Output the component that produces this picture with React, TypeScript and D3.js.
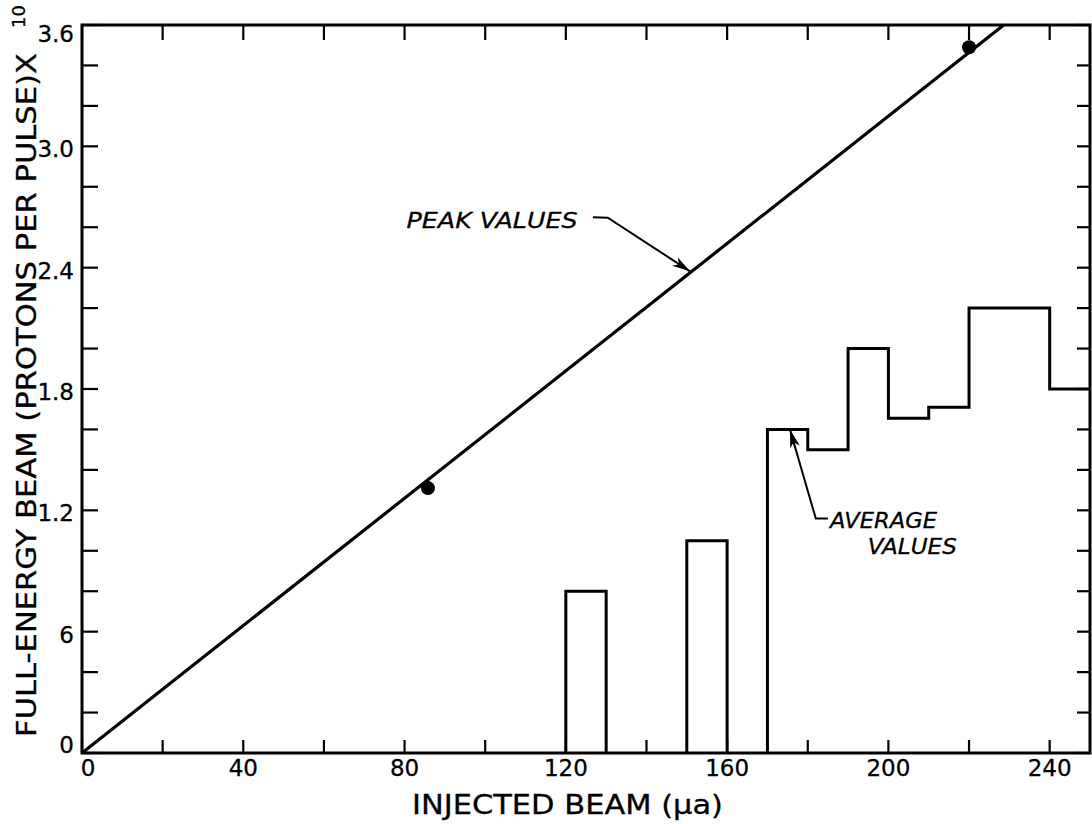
import * as d3 from 'd3';

// axis ticks and labels
const xMinorTicks = d3.range(0, 241, 20);
const xLabelValues = [0, 40, 80, 120, 160, 200, 240];
const yTickValues = d3.range(0, 19).map(i => +(i * 0.2).toFixed(1));
const yLabelValues = [0, 0.6, 1.2, 1.8, 2.4, 3.0, 3.6];
const yLabelText = ['0', '6', '1.2', '1.8', '2.4', '3.0', '3.6'];

// peak values: fitted line and two measured points
const peakLineX = [0, 228.6];
const peakLineY = [0, 3.6];
const peakPointX = [85.8, 220];
const peakPointY = [1.31, 3.49];

// average values (histogram bins)
const avgStart = [120, 150, 170, 180, 190, 200, 210, 220, 240];
const avgEnd = [130, 160, 180, 190, 200, 210, 220, 240, 250];
const avgValue = [0.8, 1.05, 1.6, 1.5, 2.0, 1.655, 1.71, 2.2, 1.8];

// annotation anchors in data units
const peakLeader = [[126.7, 2.649], [130.4, 2.647], [150.8, 2.382]];
const peakText = [80.5, 2.598];
const avgLeader = [[185.0, 1.159], [182.0, 1.159], [175.6, 1.599]];
const avgText1 = [185.5, 1.114];
const avgText2 = [194.9, 0.986];

const W = 1092, H = 824;
const margin = { top: 25, right: 2, bottom: 71, left: 82 };
const FONT = '"DejaVu Sans", Verdana, sans-serif';

export default function App() {
  const x = d3.scaleLinear().domain([0, 250]).range([margin.left, W - margin.right]);
  const y = d3.scaleLinear().domain([0, 3.6]).range([H - margin.bottom, margin.top]);
  const x0 = x(0), x1 = x(250), y0 = y(0), y1 = y(3.6);

  const line = d3.line<number[]>().x(d => x(d[0])).y(d => y(d[1]));
  const peakPts = peakLineX.map((v, i) => [v, peakLineY[i]]);

  // histogram outline
  const p = d3.path();
  avgStart.forEach((s, i) => {
    const e = avgEnd[i], v = avgValue[i];
    const joined = i > 0 && avgEnd[i - 1] === s;
    if (!joined) p.moveTo(x(s), y(0));
    p.lineTo(x(s), y(v));
    p.lineTo(x(e), y(v));
    const nextJoined = i < avgStart.length - 1 && avgStart[i + 1] === e;
    if (!nextJoined && e < 250) p.lineTo(x(e), y(0));
  });

  const yLabelShift = (v: number) => (v === 0 ? -8 : v === 3.6 ? 9 : 3);
  const ink = { fill: '#000', stroke: '#000', strokeWidth: 0.3 };

  return (
    <svg width={W} height={H} style={{ position: 'absolute', left: 0, top: 0, background: '#fff' }}
      fontFamily={FONT}>
      <defs>
        <marker id="arr" viewBox="0 0 18 10" refX="18" refY="5" markerWidth="18" markerHeight="10"
          markerUnits="userSpaceOnUse" orient="auto">
          <path d="M0,0 L18,5 L0,10 L5,5 Z" fill="#000" />
        </marker>
      </defs>

      {/* ticks */}
      <g stroke="#000" strokeWidth={2.2}>
        {xMinorTicks.map(t => (
          <g key={'xt' + t}>
            <line x1={x(t)} x2={x(t)} y1={y0} y2={y0 - 13} />
            <line x1={x(t)} x2={x(t)} y1={y1} y2={y1 + 15} />
          </g>
        ))}
        {yTickValues.map(t => (
          <g key={'yt' + t}>
            <line x1={x0} x2={x0 + 16} y1={y(t)} y2={y(t)} />
            <line x1={x1} x2={x1 - 13} y1={y(t)} y2={y(t)} />
          </g>
        ))}
      </g>

      {/* frame */}
      <rect x={x0} y={y1} width={x1 - x0} height={y0 - y1} fill="none" stroke="#000" strokeWidth={3} />

      {/* tick labels */}
      <g fontSize={23} {...ink}>
        {xLabelValues.map(t => (
          <text key={'xl' + t} x={x(t) + (t === 0 ? 6 : 0)} y={776} textAnchor="middle">{t}</text>
        ))}
        {yLabelValues.map((t, i) => (
          <text key={'yl' + t} x={74} y={y(t) + yLabelShift(t)} textAnchor="end" dominantBaseline="central">
            {yLabelText[i]}
          </text>
        ))}
      </g>

      {/* axis titles */}
      <g {...ink}>
        <text x={412} y={814} fontSize={26} textLength={311} lengthAdjust="spacingAndGlyphs">INJECTED BEAM (μa)</text>
        <text transform="translate(36,737) rotate(-90)" fontSize={26} textLength={684} lengthAdjust="spacingAndGlyphs">
          FULL-ENERGY BEAM (PROTONS PER PULSE)X
        </text>
        <text transform="translate(25,16.5) rotate(-90)" fontSize={18} textAnchor="middle">10</text>
      </g>

      {/* peak line and points */}
      <path d={line(peakPts) ?? ''} fill="none" stroke="#000" strokeWidth={3.2} />
      {peakPointX.map((v, i) => (
        <circle key={'pp' + i} cx={x(v)} cy={y(peakPointY[i])} r={7} fill="#000" />
      ))}

      {/* average histogram */}
      <path d={p.toString()} fill="none" stroke="#000" strokeWidth={3} strokeLinejoin="miter" />

      {/* annotations */}
      <path d={line(peakLeader) ?? ''} fill="none" stroke="#000" strokeWidth={2} markerEnd="url(#arr)" />
      <path d={line(avgLeader) ?? ''} fill="none" stroke="#000" strokeWidth={2} markerEnd="url(#arr)" />
      <g fontSize={22} fontStyle="italic" {...ink}>
        <text x={x(peakText[0])} y={y(peakText[1])} textLength={171} lengthAdjust="spacingAndGlyphs">PEAK VALUES</text>
        <text x={x(avgText1[0])} y={y(avgText1[1])} textLength={107} lengthAdjust="spacingAndGlyphs">AVERAGE</text>
        <text x={x(avgText2[0])} y={y(avgText2[1])} textLength={89} lengthAdjust="spacingAndGlyphs">VALUES</text>
      </g>
    </svg>
  );
}
